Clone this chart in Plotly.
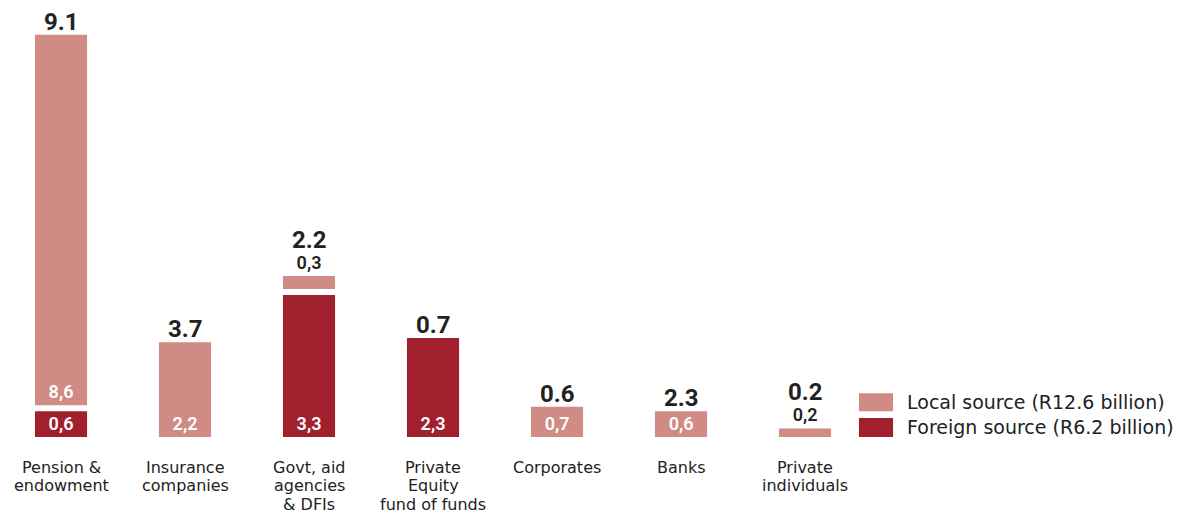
import plotly.graph_objects as go

# Investor categories (one list entry per column, lines split with <br>)
categories = [
    "Pension &<br>endowment",
    "Insurance<br>companies",
    "Govt, aid<br>agencies<br>& DFIs",
    "Private<br>Equity<br>fund of funds",
    "Corporates",
    "Banks",
    "Private<br>individuals",
]
# Funds raised by source, R billion
foreign_values = [0.6, 0.0, 3.3, 2.3, 0.0, 0.0, 0.0]
local_values = [8.6, 2.2, 0.3, 0.0, 0.7, 0.6, 0.2]
# Headline figures printed above each column
total_labels = ["9.1", "3.7", "2.2", "0.7", "0.6", "2.3", "0.2"]

legend_labels = ["Local source (R12.6 billion)", "Foreign source (R6.2 billion)"]

LOCAL_COLOR = "#CF8B84"
FOREIGN_COLOR = "#A0202D"
TEXT_COLOR = "#222222"
NUM_FONT = "Noto Sans ExtraCondensed, Noto Sans Condensed, Roboto, sans-serif"
LABEL_FONT = "DejaVu Sans, Verdana, sans-serif"

GAP = 0.14          # white gap between stacked segments (data units)
SMALL = 0.4         # segments below this carry their label outside
BAR_WIDTH = 0.42
LINE_STEP = 18.5    # px between category label lines

x = list(range(len(categories)))


def fmt(v):
    return f"{v:.1f}".replace(".", ",")


foreign_y = [v if v > 0 else None for v in foreign_values]
local_y = [v if v > 0 else None for v in local_values]
local_base = [f + GAP if f > 0 else 0 for f in foreign_values]

fig = go.Figure()

fig.add_trace(go.Bar(
    x=x, y=foreign_y, width=BAR_WIDTH,
    marker=dict(color=FOREIGN_COLOR, line=dict(width=0)),
    text=[fmt(v) if v > 0 else "" for v in foreign_values],
    textposition="inside", insidetextanchor="start",
    insidetextfont=dict(family=NUM_FONT, size=18, color="white", weight=600),
    constraintext="none", cliponaxis=False,
    hoverinfo="skip", showlegend=False,
))

fig.add_trace(go.Bar(
    x=x, y=local_y, base=local_base, width=BAR_WIDTH,
    marker=dict(color=LOCAL_COLOR, line=dict(width=0)),
    text=[fmt(v) if v > 0 else "" for v in local_values],
    textposition=["outside" if 0 < v < SMALL else "inside" for v in local_values],
    insidetextanchor="start",
    insidetextfont=dict(family=NUM_FONT, size=18, color="white", weight=600),
    outsidetextfont=dict(family=NUM_FONT, size=18, color=TEXT_COLOR, weight=600),
    constraintext="none", cliponaxis=False,
    hoverinfo="skip", showlegend=False,
))

# Column totals
for i, label in enumerate(total_labels):
    f, l = foreign_values[i], local_values[i]
    top = (f + GAP + l) if (f > 0 and l > 0) else (f + l)
    shift = 20 if 0 < l < SMALL else -3
    fig.add_annotation(
        x=i, y=top, text=label, showarrow=False,
        yanchor="bottom", yshift=shift,
        font=dict(family=NUM_FONT, size=24, color=TEXT_COLOR, weight="bold"),
    )

# Category names beneath the columns, one annotation per line
for i, name in enumerate(categories):
    for k, line in enumerate(name.split("<br>")):
        fig.add_annotation(
            x=i, xref="x", y=0, yref="paper", text=line, showarrow=False,
            xanchor="center", yanchor="middle", yshift=-(30 + k * LINE_STEP),
            font=dict(family=LABEL_FONT, size=16, color=TEXT_COLOR),
        )

# Legend swatches and labels (paper coordinates)
legend_rows = [(LOCAL_COLOR, 0.0999, 0.0588), (FOREIGN_COLOR, 0.0435, 0.0)]
for (color, y1, y0), text in zip(legend_rows, legend_labels):
    fig.add_shape(type="rect", xref="paper", yref="paper",
                  x0=0.7182, x1=0.7467, y0=y0, y1=y1,
                  fillcolor=color, line=dict(width=0))
    fig.add_annotation(xref="paper", yref="paper", x=0.757, y=(y0 + y1) / 2,
                       text=text, showarrow=False, xanchor="left", yanchor="middle",
                       font=dict(family=LABEL_FONT, size=19, color=TEXT_COLOR))

fig.update_layout(
    width=1196, height=516,
    margin=dict(l=0, r=0, t=0, b=79),
    paper_bgcolor="white", plot_bgcolor="white",
    barmode="overlay",
    xaxis=dict(
        range=[-0.492, 9.153], tickvals=x, showticklabels=False,
        showgrid=False, zeroline=False, showline=False, ticks="",
        automargin=False,
    ),
    yaxis=dict(range=[0, 10.15], visible=False, showgrid=False, zeroline=False,
               automargin=False),
)

fig.write_html("out.html")
